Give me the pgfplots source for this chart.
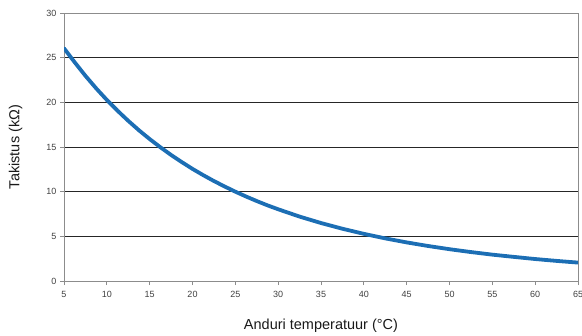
\documentclass[border=0pt]{standalone}
\usepackage{pgfplots}
\pgfplotsset{compat=1.18}
\usepackage{fontspec}
\setmainfont{Liberation Sans}
\definecolor{curve}{HTML}{1C6EB4}
\definecolor{axgray}{HTML}{8C8C8C}
\definecolor{ticktext}{HTML}{404040}
\begin{document}
\begin{tikzpicture}
\begin{axis}[
  scale only axis,
  width=514pt, height=268pt,
  xmin=5, xmax=65, ymin=0, ymax=30,
  xtick={5,10,...,65}, ytick={0,5,...,30},
  /pgf/number format/assume math mode=true,
  tick label style={font=\fontsize{9}{10}\selectfont, text=ticktext},
  axis line style={axgray, line width=0.8pt},
  tick style={axgray, line width=0.8pt},
  tick align=outside,
  major tick length=4pt,
  xtick pos=bottom, ytick pos=left,
  ymajorgrids,
  major grid style={black!85, line width=0.8pt},
  xlabel={Anduri temperatuur (°C)},
  ylabel={Takistus (kΩ)},
  label style={font=\fontsize{14.5}{16}\selectfont, text=black!90},
  xlabel style={at={(axis description cs:0.5,0)}, anchor=north, yshift=-34pt},
  ylabel style={at={(axis description cs:0,0.5)}, anchor=south, yshift=38pt},
  xticklabel style={yshift=-3pt},
]
\addplot[curve, line width=3.8pt, line join=round, line cap=round] coordinates {
(5,26.05) (6.25,24.48) (7.5,22.97) (8.75,21.57) (10,20.27) (11.25,19.06) (12.5,17.93) (13.75,16.87) (15,15.89)
(16.25,14.97) (17.5,14.11) (18.75,13.31) (20,12.55) (21.25,11.85) (22.5,11.19) (23.75,10.58) (25,10.0)
(26.25,9.46) (27.5,8.95) (28.75,8.47) (30,8.03) (32.5,7.21) (35,6.49) (37.5,5.85) (40,5.28) (42.5,4.77)
(45,4.32) (47.5,3.92) (50,3.56) (52.5,3.24) (55,2.95) (57.5,2.70) (60,2.46) (62.5,2.25) (65,2.06)
};
\draw[axgray, line width=0.8pt] (rel axis cs:0,1) -- (rel axis cs:1,1) -- (rel axis cs:1,0);
\end{axis}
\pgfresetboundingbox
\useasboundingbox ([shift={(-64pt,-54pt)}]current axis.south west) rectangle ([shift={(4pt,13pt)}]current axis.north east);
\end{tikzpicture}
\end{document}
